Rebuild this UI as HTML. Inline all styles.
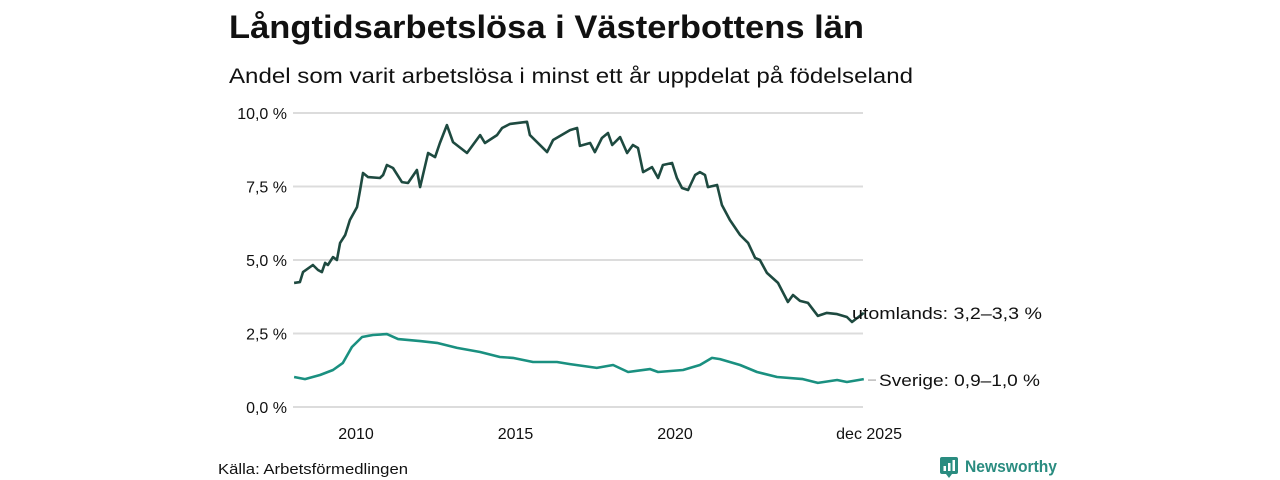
<!DOCTYPE html>
<html><head><meta charset="utf-8"><style>
body{margin:0;background:#fff;font-family:"Liberation Sans","DejaVu Sans",sans-serif;}
#wrap{position:relative;width:1280px;height:480px;overflow:hidden;}
</style></head><body>
<div id="wrap">
<svg id="chart" width="1280" height="480">
<text x="229" y="38" font-size="32" font-weight="bold" fill="#111" textLength="635" lengthAdjust="spacingAndGlyphs">Långtidsarbetslösa i Västerbottens län</text>
<text x="229" y="83" font-size="21" fill="#111" textLength="684" lengthAdjust="spacingAndGlyphs">Andel som varit arbetslösa i minst ett år uppdelat på födelseland</text>
<g id="grid"></g><g id="lines"></g><g id="labels"></g>
<text x="218" y="474" font-size="15" fill="#111" textLength="190" lengthAdjust="spacingAndGlyphs">Källa: Arbetsförmedlingen</text>
<g>
<rect x="940" y="457" width="18" height="17" rx="2" fill="#2a8c80"/>
<polygon points="946,474 952,474 949,478" fill="#2a8c80"/>
<rect x="943.5" y="466" width="2.5" height="5" fill="#fff"/><rect x="948" y="463" width="2.5" height="8" fill="#fff"/><rect x="952.5" y="460" width="2.5" height="11" fill="#fff"/>
<text x="965" y="472" font-size="17" font-weight="bold" fill="#2a8c80" textLength="92" lengthAdjust="spacingAndGlyphs">Newsworthy</text>
</g>
</svg>
</div>
<script>
const yTicks=[0,2.5,5,7.5,10];
const yTickLabels=["0,0 %","2,5 %","5,0 %","7,5 %","10,0 %"];
const xTicks=[2010,2015,2020,2025.92];
const xTickLabels=["2010","2015","2020","dec 2025"];
const foreignDates=[2008.06,2008.24,2008.34,2008.65,2008.81,2008.93,2009.03,2009.12,2009.28,2009.40,2009.50,2009.66,2009.81,2010.03,2010.13,2010.22,2010.38,2010.75,2010.85,2010.97,2011.16,2011.44,2011.63,2011.91,2012.01,2012.26,2012.48,2012.63,2012.85,2013.04,2013.48,2013.89,2014.04,2014.42,2014.58,2014.83,2015.36,2015.45,2015.99,2016.18,2016.71,2016.93,2017.02,2017.34,2017.49,2017.71,2017.90,2018.03,2018.28,2018.50,2018.68,2018.84,2019.00,2019.28,2019.47,2019.62,2019.91,2020.06,2020.22,2020.41,2020.63,2020.78,2020.94,2021.03,2021.32,2021.47,2021.72,2022.04,2022.29,2022.51,2022.66,2022.88,2023.23,2023.54,2023.70,2023.92,2024.17,2024.48,2024.76,2025.08,2025.39,2025.55,2025.92];
const foreignValues=[4.22,4.25,4.59,4.83,4.66,4.59,4.90,4.83,5.10,5.00,5.58,5.85,6.36,6.80,7.38,7.96,7.82,7.79,7.89,8.23,8.13,7.65,7.62,8.06,7.48,8.64,8.50,8.98,9.59,9.01,8.64,9.25,8.98,9.25,9.49,9.63,9.70,9.25,8.67,9.08,9.42,9.49,8.88,8.98,8.67,9.15,9.32,8.91,9.18,8.64,8.91,8.81,7.99,8.16,7.79,8.23,8.30,7.79,7.45,7.38,7.89,7.99,7.89,7.48,7.55,6.87,6.36,5.85,5.58,5.07,5.00,4.56,4.22,3.57,3.81,3.61,3.54,3.10,3.20,3.16,3.06,2.89,3.20];
const swedenDates=[2008.06,2008.40,2008.87,2009.28,2009.59,2009.87,2010.19,2010.53,2010.97,2011.32,2012.01,2012.54,2013.17,2013.89,2014.51,2014.92,2015.55,2016.30,2016.71,2017.55,2018.06,2018.53,2019.22,2019.47,2020.25,2020.78,2021.16,2021.41,2022.04,2022.57,2023.20,2024.01,2024.48,2025.08,2025.39,2025.92];
const swedenValues=[1.02,0.95,1.09,1.26,1.50,2.04,2.38,2.45,2.48,2.31,2.24,2.18,2.01,1.87,1.70,1.67,1.53,1.53,1.46,1.33,1.43,1.19,1.29,1.19,1.26,1.43,1.67,1.63,1.43,1.19,1.02,0.95,0.82,0.92,0.85,0.95];

const NS="http://www.w3.org/2000/svg";
const X=t=>356+(t-2010)*31.9;
const Y=v=>407-v*29.4;
function mk(tag,attrs,parent){const e=document.createElementNS(NS,tag);for(const k in attrs)e.setAttribute(k,attrs[k]);parent.appendChild(e);return e;}
const grid=document.getElementById('grid'),lines=document.getElementById('lines'),labels=document.getElementById('labels');
yTicks.forEach((v,i)=>{
 const l=mk('line',{x1:293,x2:863,y1:Y(v),y2:Y(v),stroke:'#dcdcdc','stroke-width':2},grid);
 
 
 const t=mk('text',{x:287,y:Y(v)+6,'text-anchor':'end','font-size':16,fill:'#111'},grid);
 t.textContent=yTickLabels[i];
 
 
});
xTicks.forEach((v,i)=>{
 const t=mk('text',{x:X(v),y:439,'text-anchor':'middle','font-size':16,fill:'#111'},grid);
 if(i==3){t.setAttribute('x',902);t.setAttribute('text-anchor','end');}
 t.textContent=xTickLabels[i];
 
 
});
function path(d,v){return d.map((t,i)=>(i?'L':'M')+X(t).toFixed(1)+','+Y(v[i]).toFixed(1)).join('');}
const p1=mk('path',{d:path(foreignDates,foreignValues),fill:'none',stroke:'#1e4a40','stroke-width':2.6,'stroke-linejoin':'round'},lines);


const p2=mk('path',{d:path(swedenDates,swedenValues),fill:'none',stroke:'#1a9080','stroke-width':2.6,'stroke-linejoin':'round'},lines);


const lf=foreignValues[foreignValues.length-1],ls=swedenValues[swedenValues.length-1];
const t1=mk('text',{x:852,y:Y(lf)+6,'font-size':17,fill:'#111',textLength:190,lengthAdjust:'spacingAndGlyphs'},labels);
t1.textContent='utomlands: 3,2–3,3 %';


const ll=mk('line',{x1:868,x2:876,y1:Y(ls)+1,y2:Y(ls)+1,stroke:'#999','stroke-width':1},labels);


const t2=mk('text',{x:879,y:Y(ls)+7,'font-size':17,fill:'#111',textLength:161,lengthAdjust:'spacingAndGlyphs'},labels);
t2.textContent='Sverige: 0,9–1,0 %';


</script>
</body></html>
